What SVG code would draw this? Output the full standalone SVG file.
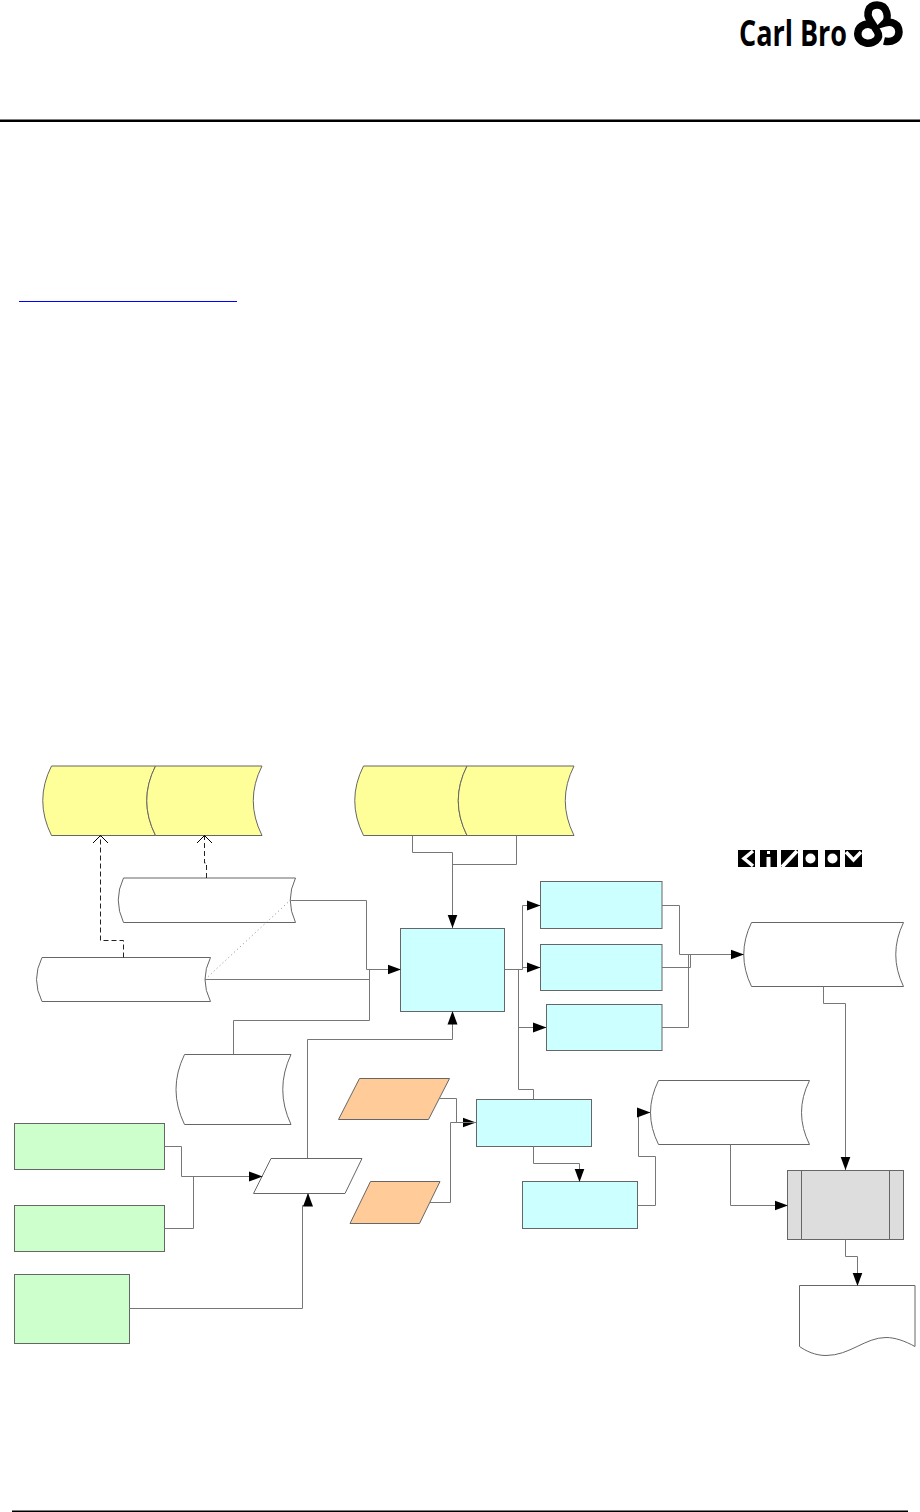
<svg xmlns="http://www.w3.org/2000/svg" width="920" height="1512" viewBox="0 0 920 1512">
<style>
.s{stroke:#666;stroke-width:1}
.y{fill:#ffff99}.b{fill:#ccffff}.g{fill:#ccffcc}.o{fill:#ffcc99}.w{fill:#fff}.d{fill:#ddd}
.c{fill:none;stroke:#777;stroke-width:1}
.a{marker-end:url(#ah)}
.da{fill:none;stroke:#222;stroke-width:1;stroke-dasharray:5 3;marker-end:url(#oh)}
</style>
<defs>
<marker id="ah" markerUnits="userSpaceOnUse" markerWidth="14" markerHeight="11" refX="13.5" refY="5.5" orient="auto"><path d="M0,0.5L13.5,5.5L0,10.5Z" fill="#000"/></marker>
<marker id="oh" markerUnits="userSpaceOnUse" markerWidth="9" markerHeight="16" refX="8" refY="8" orient="auto"><path d="M0.5,0.5L8,8L0.5,15.5" fill="none" stroke="#000"/></marker>
</defs>
<rect width="920" height="1512" fill="#fff"/>
<g id="header">
<text x="739" y="46" font-family="'Open Sans',sans-serif" font-weight="700" font-size="35" textLength="108" lengthAdjust="spacingAndGlyphs" fill="#000">Carl Bro</text>
<path d="M884,41 C892,43 899,39 899,32 C899,24 892,21 885,23 C889,19 888,5 877,5 C868,5 866,14 870,20 L877,31 C882,39 873,44 866,43 C860,42 857,37 858,32 C859,25 868,22 873,26" fill="none" stroke="#000" stroke-width="7.5"/>
<rect x="0" y="119.5" width="920" height="2.5" fill="#000"/>
<rect x="19" y="301" width="218" height="1" fill="#0000ff"/>
<rect x="12" y="1510.5" width="896" height="1.5" fill="#000"/>
</g>
<g id="badge">
<rect x="738" y="850" width="17" height="17" fill="#000"/><path d="M753,851L744,858.5L753,866" fill="none" stroke="#fff" stroke-width="3.5"/>
<rect x="760" y="850" width="17" height="17" fill="#000"/><rect x="766.5" y="857" width="4" height="10" fill="#fff"/><rect x="767" y="851" width="3" height="3" fill="#fff"/>
<rect x="781" y="850" width="17" height="17" fill="#000"/><path d="M782,867L797,851" stroke="#fff" stroke-width="4"/>
<rect x="803" y="850" width="15" height="17" fill="#000"/><circle cx="810.5" cy="858.5" r="5" fill="#fff"/>
<rect x="825" y="850" width="15" height="17" fill="#000"/><circle cx="832.5" cy="858.5" r="5" fill="#fff"/>
<rect x="845" y="850" width="17" height="17" fill="#000"/><path d="M846,852L853.5,860L861,852" fill="none" stroke="#fff" stroke-width="3.5"/>
</g>
<g id="store-yellow-1"><path class="s y" d="M51.5,766H155.5Q138,800.5 155.5,835.5H51.5Q34,800.5 51.5,766Z"/></g>
<g id="store-yellow-2"><path class="s y" d="M155.5,766H262Q244.5,800.5 262,835.5H155.5Q138,800.5 155.5,766Z"/></g>
<g id="store-yellow-3"><path class="s y" d="M363.5,766H467Q449.5,800.5 467,835.5H363.5Q346,800.5 363.5,766Z"/></g>
<g id="store-yellow-4"><path class="s y" d="M467,766H574Q556.5,800.5 574,835.5H467Q449.5,800.5 467,766Z"/></g>
<g id="store-white-1"><path class="s w" d="M123.5,878H295.5Q285,900 295.5,922.5H123.5Q113,900 123.5,878Z"/></g>
<g id="store-white-2"><path class="s w" d="M42,957.5H210.5Q199.5,979.5 210.5,1001.5H42Q31,979.5 42,957.5Z"/></g>
<g id="store-white-3"><path class="s w" d="M184.5,1054.5H291Q274.5,1089.5 291,1124.5H184.5Q167.5,1089.5 184.5,1054.5Z"/></g>
<g id="store-white-4"><path class="s w" d="M751.5,922.5H903.5Q888,954.5 903.5,986.5H751.5Q736,954.5 751.5,922.5Z"/></g>
<g id="store-white-5"><path class="s w" d="M658.5,1080.5H809.5Q793.5,1112.5 809.5,1144.5H658.5Q642.5,1112.5 658.5,1080.5Z"/></g>
<g id="proc-main"><rect class="s b" x="400.5" y="928.5" width="104" height="83"/></g>
<g id="proc-1"><rect class="s b" x="540.5" y="881.5" width="121.5" height="47"/></g>
<g id="proc-2"><rect class="s b" x="540.5" y="944.5" width="121.5" height="46"/></g>
<g id="proc-3"><rect class="s b" x="546.5" y="1004.5" width="115.5" height="46"/></g>
<g id="proc-4"><rect class="s b" x="476.5" y="1099.5" width="115" height="47"/></g>
<g id="proc-5"><rect class="s b" x="522.5" y="1181.5" width="115" height="47"/></g>
<g id="input-1"><rect class="s g" x="14.5" y="1123.5" width="150" height="46"/></g>
<g id="input-2"><rect class="s g" x="14.5" y="1205.5" width="150" height="46"/></g>
<g id="input-3"><rect class="s g" x="14.5" y="1274.5" width="115" height="69"/></g>
<g id="io-orange-1"><path class="s o" d="M359.5,1078.5H449.5L428.5,1119.5H338.5Z"/></g>
<g id="io-orange-2"><path class="s o" d="M370.5,1181.5H440L419.5,1223.5H350Z"/></g>
<g id="io-white"><path class="s w" d="M271,1158.5H362L345,1193.5H253.5Z"/></g>
<g id="predefined"><rect class="s d" x="787.5" y="1170.5" width="116" height="69"/><path class="s" d="M801.5,1170.5V1239.5M889.5,1170.5V1239.5"/></g>
<g id="document"><path class="s w" d="M799.5,1285.5H915V1346.5C905,1341 895,1337.5 886,1337.5C865,1337.5 850,1355.5 826,1355.5C815,1355.5 806,1351 799.5,1346.5Z"/></g>
<g id="connectors">
<path class="da" d="M123.5,957.5V940.5H100.5V835.5"/>
<path class="da" d="M206.5,878V863H204.5V835.5"/>
<path d="M205,979.5L290.5,900" fill="none" stroke="#888" stroke-dasharray="1 3"/>
<path class="c a" d="M290.5,900.5H366.5V969.5H401"/>
<path class="c" d="M205,979.5H369.5V969.5"/>
<path class="c" d="M233.5,1054V1020.5H369.5V969.5"/>
<path class="c a" d="M412.5,835.5V852.5H452.5V928"/>
<path class="c" d="M516.5,835.5V864.5H452.5"/>
<path class="c a" d="M307.5,1158V1039.5H452.5V1011"/>
<path class="c a" d="M504.5,969.5H522.5V905.5H540.5"/>
<path class="c a" d="M522.5,967.5H540.5"/>
<path class="c a" d="M518.5,969.5V1027.5H546.5"/>
<path class="c" d="M518.5,1027V1089.5H533.5V1099.5"/>
<path class="c a" d="M662,905.5H679.5V954.5H744"/>
<path class="c" d="M662,967.5H690.5V954.5"/>
<path class="c" d="M662,1027.5H688.5V954.5"/>
<path class="c a" d="M823.5,986.5V1003.5H845.5V1170"/>
<path class="c a" d="M730.5,1144.5V1205.5H788"/>
<path class="c a" d="M845.5,1239.5V1256.5H857.5V1286"/>
<path class="c a" d="M637.5,1205.5H655.5V1156.5H638.5V1112.5H650.5"/>
<path class="c a" d="M533.5,1146.5V1163.5H579.5V1182"/>
<path class="c a" d="M439,1098.5H456.5V1122.5H476"/>
<path class="c" d="M430,1202.5H450.5V1122.5H476"/>
<path class="c a" d="M164.5,1146.5H181.5V1176.5H262.5"/>
<path class="c" d="M164.5,1228.5H193.5V1176.5"/>
<path class="c" d="M129.5,1308.5H302.5V1205.5H308"/>
<path class="c a" d="M308,1205.5V1193"/>
</g>
</svg>
